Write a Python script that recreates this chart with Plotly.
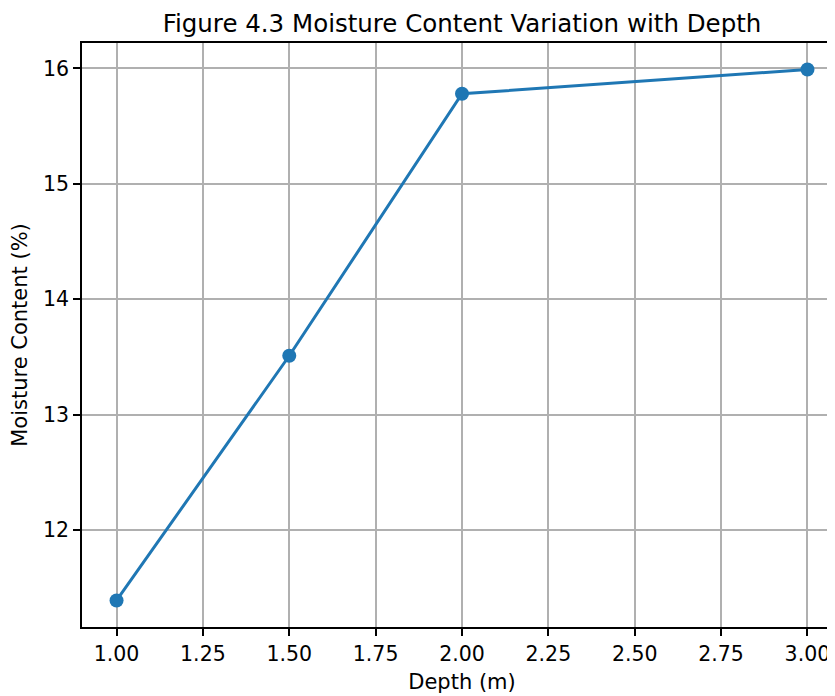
import plotly.graph_objects as go

depth = [1.0, 1.5, 2.0, 3.0]
moisture = [11.39, 13.51, 15.78, 15.99]
x_ticks = [1.0, 1.25, 1.5, 1.75, 2.0, 2.25, 2.5, 2.75, 3.0]
x_tick_labels = ["1.00", "1.25", "1.50", "1.75", "2.00", "2.25", "2.50", "2.75", "3.00"]
y_ticks = [12, 13, 14, 15, 16]

W, H = 835, 696
L, R, T, B = 74, 1, 35, 77

fig = go.Figure()
fig.add_trace(go.Scatter(
    x=depth, y=moisture, mode="lines+markers",
    line=dict(color="#1f77b4", width=3),
    marker=dict(color="#1f77b4", size=14),
    showlegend=False,
))

font = "DejaVu Sans"
fig.update_layout(
    width=W, height=H,
    margin=dict(l=L, r=R, t=T, b=B),
    plot_bgcolor="white", paper_bgcolor="white",
    font=dict(family=font, color="black", size=20),
    title=dict(text="Figure 4.3 Moisture Content Variation with Depth",
               x=454 / W, xanchor="center", xref="container",
               y=1 - 15 / H, yanchor="middle", yref="container",
               font=dict(family=font, size=24.5, color="black")),
    xaxis=dict(range=[0.9, 3.1],
               tickvals=x_ticks, ticktext=x_tick_labels,
               showgrid=True, gridcolor="#b0b0b0", gridwidth=1.7,
               showline=True, linecolor="black", linewidth=1.8, mirror=True,
               ticks="outside", ticklen=7, tickwidth=1.7, tickcolor="black",
               zeroline=False,
               title=dict(text="Depth (m)", font=dict(size=21), standoff=10),
               tickfont=dict(size=20.5)),
    yaxis=dict(range=[11.16, 16.22],
               tickvals=y_ticks,
               showgrid=True, gridcolor="#b0b0b0", gridwidth=1.7,
               showline=True, linecolor="black", linewidth=1.8,
               ticks="outside", ticklen=7, tickwidth=1.7, tickcolor="black",
               zeroline=False,
               title=dict(text="Moisture Content (%)", font=dict(size=21), standoff=12),
               tickfont=dict(size=20.5)),
)

fig.write_html("out.html")
